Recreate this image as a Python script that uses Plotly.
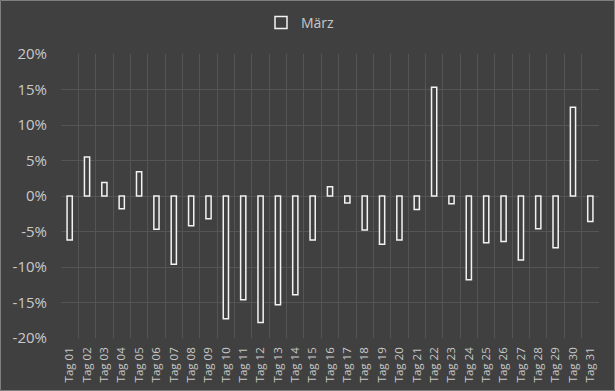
import plotly.graph_objects as go

categories = [f"Tag {i:02d}" for i in range(1, 32)]
values = [-6.2, 5.5, 1.9, -1.8, 3.4, -4.7, -9.6, -4.2, -3.2, -17.3,
          -14.6, -17.8, -15.3, -13.9, -6.2, 1.3, -1.0, -4.8, -6.8, -6.2,
          -1.9, 15.3, -1.1, -11.8, -6.6, -6.4, -9.0, -4.6, -7.3, 12.5, -3.6]
y_tick_vals = [-20, -15, -10, -5, 0, 5, 10, 15, 20]
y_tick_text = ["-20%", "-15%", "-10%", "-5%", "0%", "5%", "10%", "15%", "20%"]
series_name = "März"

bg = "#404040"
grid = "#555555"
text = "#c8c8c8"

fig = go.Figure()
fig.add_trace(go.Bar(
    x=categories, y=values, name=series_name,
    marker=dict(color=bg, line=dict(color="#f2f2f2", width=1.5)),
    width=0.3,
))

W, H = 615, 391
l, r, t, b = 61, 16, 54, 53
pw, ph = W - l - r, H - t - b

fig.update_layout(
    width=W, height=H,
    margin=dict(l=l, r=r, t=t, b=b, autoexpand=False),
    paper_bgcolor=bg, plot_bgcolor=bg,
    font=dict(family="Open Sans", color=text, size=12),
    showlegend=True,
    legend=dict(orientation="h", xref="container", x=261 / W, xanchor="left",
                yref="container", y=1 - 23 / H, yanchor="middle",
                font=dict(size=14, color=text), bgcolor="rgba(0,0,0,0)"),
    xaxis=dict(type="category", tickson="boundaries", showgrid=True,
               gridcolor=grid, gridwidth=1, tickangle=-90, ticks="",
               tickfont=dict(size=11.5, color=text), showline=False,
               zeroline=False, ticklabelstandoff=6, automargin=False),
    yaxis=dict(range=[-20, 20], tickvals=y_tick_vals, ticktext=y_tick_text,
               showgrid=True, gridcolor=grid, gridwidth=1, zeroline=False,
               tickfont=dict(size=15, color=text), ticks="", showline=False,
               ticklabelstandoff=13, automargin=False),
    shapes=[dict(type="rect", xref="paper", yref="paper",
                 x0=-(l - 0.5) / pw, x1=1 + (r - 0.5) / pw,
                 y0=-(b - 0.5) / ph, y1=1 + (t - 0.5) / ph,
                 line=dict(color="#7f7f7f", width=1), layer="below")],
)

fig.write_html("out.html")
